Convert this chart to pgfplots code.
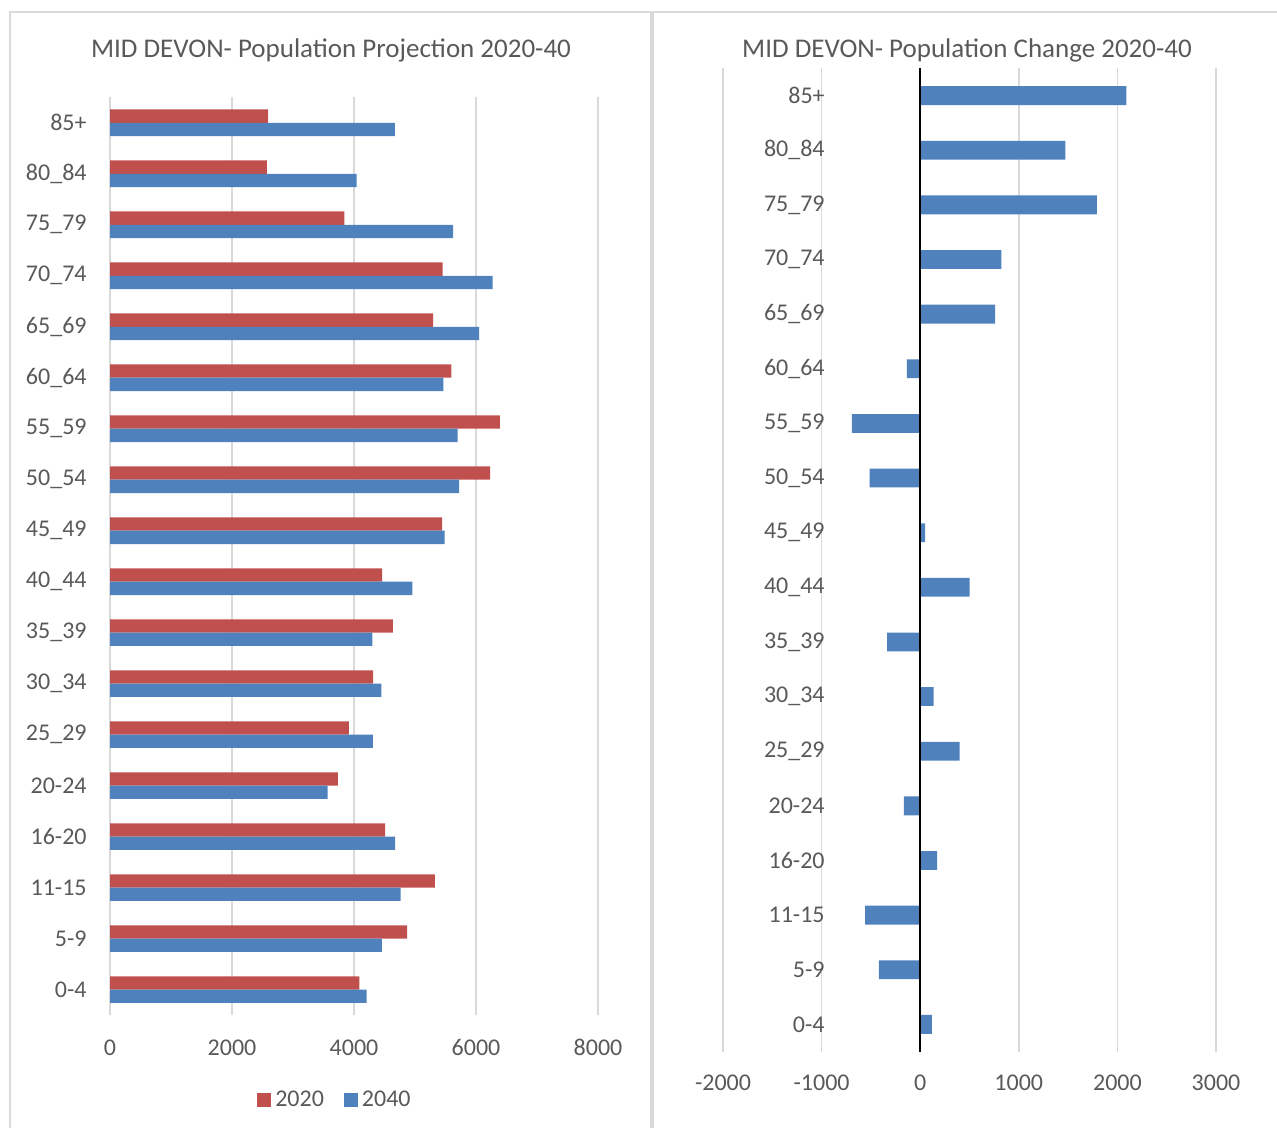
\documentclass[border=0pt]{standalone}
\usepackage{pgfplots}
\pgfplotsset{compat=1.18}
\usepackage{fontspec}
\setmainfont{Carlito}
\definecolor{redA}{HTML}{C0504D}
\definecolor{blueA}{HTML}{4F81BD}
\definecolor{gridc}{HTML}{D9D9D9}
\definecolor{txt}{HTML}{595959}
\newcommand{\lblfont}{\fontsize{12}{14}\selectfont}
\newcommand{\ttlfont}{\fontsize{13.5}{16}\selectfont}

\pgfplotstableread{
idx y2020 y2040
0  4088 4208
1  4870 4456
2  5324 4763
3  4509 4676
4  3734 3567
5  3915 4309
6  4315 4449
7  4636 4302
8  4462 4957
9  5444 5484
10 6232 5725
11 6393 5698
12 5598 5464
13 5297 6052
14 5451 6273
15 3841 5625
16 2572 4041
17 2592 4670
}\projtable

\pgfplotstableread{
idx change
0  118
1  -420
2  -559
3  171
4  -167
5  400
6  135
7  -335
8  502
9  49
10 -514
11 -694
12 -135
13 759
14 824
15 1792
16 1473
17 2090
}\changetable

\pgfplotsset{
  common/.style={
    scale only axis,
    xbar,
    ymin=-0.5, ymax=17.5,
    ytick={0,...,17},
    yticklabels={0-4,5-9,11-15,16-20,20-24,25\_29,30\_34,35\_39,40\_44,45\_49,50\_54,55\_59,60\_64,65\_69,70\_74,75\_79,80\_84,85+},
    xmajorgrids,
    grid style={gridc, line width=0.75pt},
    axis line style={draw=none},
    major tick length=0pt,
    tick label style={font=\lblfont, text=txt},
    /pgf/number format/assume math mode=true,
    /pgf/number format/1000 sep={},
    xticklabel style={inner sep=0pt, anchor=north},
    yticklabel style={inner sep=0pt, anchor=east},
  }
}

\begin{document}
\begin{tikzpicture}
\path[use as bounding box] (0,0) rectangle (638.5pt,-564pt);
% panel borders
\draw[gridc, line width=0.75pt] (5pt,-564pt) -- (5pt,-6pt) -- (326pt,-6pt);
\draw[gridc, line width=0.75pt] (326pt,-6pt) -- (638.5pt,-6pt);
\draw[gridc, line width=2pt] (326pt,-6pt) -- (326pt,-564pt);

\node[text=txt, font=\ttlfont] at (165.5pt,-25pt) {MID DEVON- Population Projection 2020-40};
\node[text=txt, font=\ttlfont] at (483.5pt,-25pt) {MID DEVON- Population Change 2020-40};

\begin{axis}[common,
  at={(55pt,-48.65pt)}, anchor=north west,
  width=244pt, height=458.9pt,
  xmin=0, xmax=8000,
  xtick={0,2000,4000,6000,8000},
  bar width=6.65pt,
  xticklabel style={yshift=-12pt},
  yticklabel style={xshift=-11.5pt},
  legend columns=2,
  legend style={at={(0.463,-0.0926)}, anchor=center, draw=none, fill=none,
    font=\lblfont, text=txt,
    /tikz/every even column/.append style={column sep=8pt}},
  legend image code/.code={\fill[#1] (0pt,-3.5pt) rectangle (7pt,3.5pt);},
]
\addplot[fill=redA, draw=none, bar shift=3.325pt] table[x=y2020, y=idx] {\projtable};
\addlegendentry{2020}
\addplot[fill=blueA, draw=none, bar shift=-3.325pt] table[x=y2040, y=idx] {\projtable};
\addlegendentry{2040}
\end{axis}

\begin{axis}[common,
  at={(361.5pt,-34.15pt)}, anchor=north west,
  width=246.5pt, height=491.7pt,
  xmin=-2000, xmax=3000,
  xtick={-2000,-1000,0,1000,2000,3000},
  bar width=9.4pt,
  xticklabel style={yshift=-11.5pt},
  yticklabel style={xshift=51pt},
]
\addplot[fill=blueA, draw=none, bar shift=0pt] table[x=change, y=idx] {\changetable};
\draw[black, line width=1pt] (axis cs:0,-0.5) -- (axis cs:0,17.5);
\end{axis}
\end{tikzpicture}
\end{document}
